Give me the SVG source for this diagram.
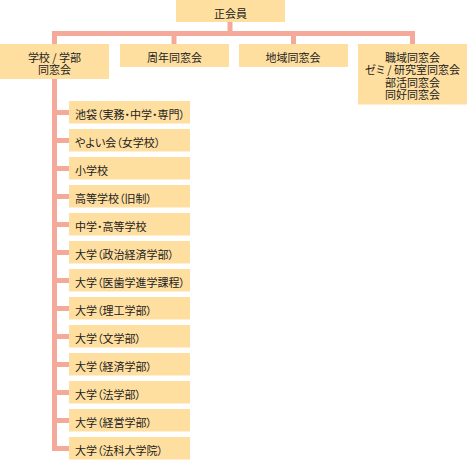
<svg xmlns="http://www.w3.org/2000/svg" width="467" height="460" viewBox="0 0 467 460">
<style>
.box{fill:#FFDF9F}
.ln{fill:none;stroke:#F5A99A;stroke-width:5;stroke-linejoin:miter}
text{font-family:"Noto Sans CJK JP","Noto Sans CJK SC",sans-serif;font-size:11px;fill:#222;font-feature-settings:"palt"}
.c{text-anchor:middle}
</style>
<rect x="0" y="0" width="467" height="460" fill="#fff"/>
<g id="connectors">
<path class="ln" d="M230 22V33.5"/>
<path class="ln" d="M54.5 44V33.5H412.5V44"/>
<path class="ln" d="M174 33.5V44"/>
<path class="ln" d="M293.5 33.5V44"/>
<path class="ln" d="M54.5 79V451"/>
<path class="ln" d="M57 112.5H69M57 140.5H69M57 168.5H69M57 196.5H69M57 224.5H69M57 252.5H69M57 280.5H69M57 308.5H69M57 336.5H69M57 364.5H69M57 392.5H69M57 420.5H69M57 448.5H69"/>
</g>
<g id="n0"><rect class="box" x="176" y="0" width="109" height="22"/><text class="c" x="230.5" y="18">正会員</text></g>
<g id="n1"><rect class="box" x="0" y="44" width="109" height="35"/><text class="c" x="54.5" y="61.5"><tspan x="54.5">学校 / 学部</tspan><tspan x="54.5" dy="12">同窓会</tspan></text></g>
<g id="n2"><rect class="box" x="120" y="44" width="109" height="23"/><text class="c" x="174.5" y="62">周年同窓会</text></g>
<g id="n3"><rect class="box" x="239" y="44" width="109" height="23"/><text class="c" x="293" y="62">地域同窓会</text></g>
<g id="n4"><rect class="box" x="358" y="44" width="109" height="60.5"/><text class="c" x="412.5" y="62"><tspan x="412.5">職域同窓会</tspan><tspan x="412.5" dy="12.3">ゼミ / 研究室同窓会</tspan><tspan x="412.5" dy="12.4">部活同窓会</tspan><tspan x="412.5" dy="12.3">同好同窓会</tspan></text></g>
<g id="c1"><rect class="box" x="69" y="101" width="121" height="22.5"/><text x="75" y="119">池袋（実務・中学・専門）</text></g>
<g id="c2"><rect class="box" x="69" y="129" width="121" height="22.5"/><text x="75" y="147">やよい会（女学校）</text></g>
<g id="c3"><rect class="box" x="69" y="157" width="121" height="22.5"/><text x="75" y="175">小学校</text></g>
<g id="c4"><rect class="box" x="69" y="185" width="121" height="22.5"/><text x="75" y="203">高等学校（旧制）</text></g>
<g id="c5"><rect class="box" x="69" y="213" width="121" height="22.5"/><text x="75" y="231">中学・高等学校</text></g>
<g id="c6"><rect class="box" x="69" y="241" width="121" height="22.5"/><text x="75" y="259">大学（政治経済学部）</text></g>
<g id="c7"><rect class="box" x="69" y="269" width="121" height="22.5"/><text x="75" y="287">大学（医歯学進学課程）</text></g>
<g id="c8"><rect class="box" x="69" y="297" width="121" height="22.5"/><text x="75" y="315">大学（理工学部）</text></g>
<g id="c9"><rect class="box" x="69" y="325" width="121" height="22.5"/><text x="75" y="343">大学（文学部）</text></g>
<g id="c10"><rect class="box" x="69" y="353" width="121" height="22.5"/><text x="75" y="371">大学（経済学部）</text></g>
<g id="c11"><rect class="box" x="69" y="381" width="121" height="22.5"/><text x="75" y="399">大学（法学部）</text></g>
<g id="c12"><rect class="box" x="69" y="409" width="121" height="22.5"/><text x="75" y="427">大学（経営学部）</text></g>
<g id="c13"><rect class="box" x="69" y="437" width="121" height="22.5"/><text x="75" y="455">大学（法科大学院）</text></g>
</svg>
